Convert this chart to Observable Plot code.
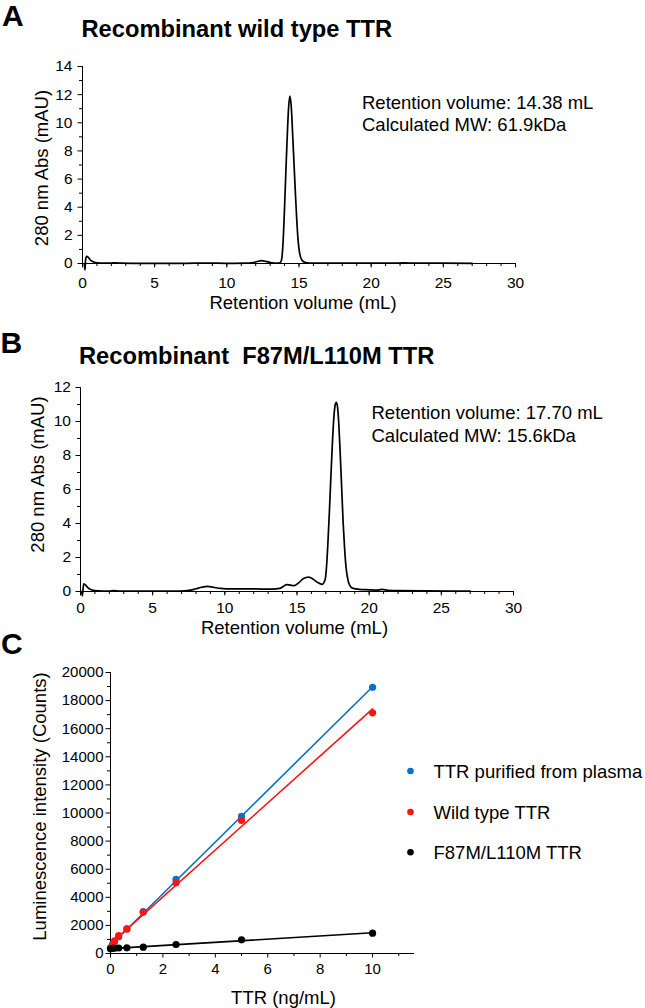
<!DOCTYPE html>
<html><head><meta charset="utf-8">
<script src="https://cdn.jsdelivr.net/npm/d3@7"></script>
<script src="https://cdn.jsdelivr.net/npm/@observablehq/plot@0.6"></script>
<style>
html,body{margin:0;padding:0;background:#fff;overflow:hidden}
#root{position:relative;width:645px;height:1008px;background:#fff}
#root svg{position:absolute;left:0;top:0}
</style></head><body><div id="root"></div>
<script>
// ---------- Panel A: recombinant wild type TTR chromatogram ----------
const volA = [0.12, 0.17, 0.21, 0.28, 0.36, 0.45, 0.6, 0.8, 1.0, 1.5, 2.0, 2.3, 2.7, 3.5, 5.0, 7.0, 8.6, 10.0, 11.3, 11.8, 12.1, 12.4, 12.7, 13.0, 13.3, 13.55, 13.7, 13.8, 13.9, 14.0, 14.1, 14.2, 14.28, 14.37, 14.46, 14.55, 14.65, 14.75, 14.85, 14.95, 15.05, 15.2, 15.4, 15.7, 16.5, 18.0, 20.0, 21.5, 22.3, 23.0, 25.0, 27.0];
const absA = [0.0, -0.45, 0.2, 0.5, 0.48, 0.38, 0.2, 0.1, 0.05, 0.03, 0.03, 0.05, 0.02, 0.01, 0.01, 0.01, 0.03, 0.01, 0.02, 0.06, 0.14, 0.2, 0.15, 0.07, 0.03, 0.02, 0.05, 0.3, 1.6, 4.0, 6.8, 9.4, 11.1, 11.9, 11.2, 9.4, 7.2, 5.0, 3.0, 1.5, 0.7, 0.25, 0.08, 0.03, 0.02, 0.02, 0.02, 0.03, 0.04, 0.03, 0.02, 0.01];
const xTicksA = [0, 5, 10, 15, 20, 25, 30];
const yTicksA = [0, 2, 4, 6, 8, 10, 12, 14];

// ---------- Panel B: recombinant F87M/L110M TTR chromatogram ----------
const volB = [0.08, 0.13, 0.18, 0.23, 0.3, 0.4, 0.55, 0.75, 1.0, 1.5, 2.0, 2.3, 2.7, 3.5, 5.0, 6.5, 7.2, 7.6, 8.0, 8.4, 8.8, 9.2, 9.7, 10.5, 12.0, 13.3, 13.8, 14.05, 14.3, 14.55, 14.8, 15.1, 15.45, 15.8, 16.1, 16.4, 16.75, 16.95, 17.05, 17.15, 17.25, 17.35, 17.45, 17.55, 17.65, 17.72, 17.8, 17.9, 18.0, 18.1, 18.2, 18.3, 18.4, 18.55, 18.7, 18.9, 19.3, 20.0, 20.5, 20.9, 21.3, 22.0, 24.0, 27.0];
const absB = [0.0, -0.25, 0.2, 0.45, 0.42, 0.33, 0.2, 0.1, 0.05, 0.03, 0.03, 0.06, 0.03, 0.02, 0.02, 0.02, 0.04, 0.08, 0.16, 0.25, 0.3, 0.25, 0.18, 0.15, 0.15, 0.14, 0.18, 0.3, 0.41, 0.37, 0.34, 0.5, 0.76, 0.85, 0.74, 0.55, 0.42, 0.7, 1.5, 3.0, 4.8, 6.8, 8.7, 10.2, 11.0, 11.13, 10.9, 9.8, 8.0, 6.0, 4.0, 2.5, 1.4, 0.6, 0.3, 0.18, 0.13, 0.1, 0.08, 0.12, 0.07, 0.05, 0.04, 0.02];
const xTicksB = [0, 5, 10, 15, 20, 25, 30];
const yTicksB = [0, 2, 4, 6, 8, 10, 12];

// ---------- Panel C: luminescence vs TTR concentration ----------
const conc = [0, 0.078, 0.156, 0.3125, 0.625, 1.25, 2.5, 5, 10];
const plasma = [400, 650, 850, 1200, 1750, 2990, 5270, 9770, 18950];
const wild = [380, 600, 900, 1270, 1750, 2930, 5030, 9470, 17130];
const mutant = [330, 360, 375, 390, 405, 450, 640, 975, 1445];
const seriesNames = ["TTR purified from plasma", "Wild type TTR", "F87M/L110M TTR"];
const seriesColors = ["#0a70c6", "#ff1414", "#000000"];
const xTicksC = [0, 2, 4, 6, 8, 10];
const yTicksC = [0, 2000, 4000, 6000, 8000, 10000, 12000, 14000, 16000, 18000, 20000];

// ---------- helpers ----------
const W = 645, H = 1008;
const FONT = '"Liberation Sans", Arial, Helvetica, sans-serif';
const root = document.getElementById("root");

function label(s, X, Y, m, opts = {}) {
  return Plot.text([s], {
    frameAnchor: "top-left", dx: X - m.left, dy: Y - m.top,
    text: d => d, lineAnchor: "bottom", textAnchor: "start",
    fontSize: 18.5, fill: "#000", ...opts
  });
}
function panel(m, xDomain, yDomain, marks) {
  return Plot.plot({
    width: W, height: H,
    marginTop: m.top, marginRight: m.right, marginBottom: m.bottom, marginLeft: m.left,
    x: {domain: xDomain}, y: {domain: yDomain},
    style: {fontFamily: FONT, background: "transparent", overflow: "visible", color: "#000"},
    marks
  });
}
function axes(xMinor, xMajor, yMinor, yMajor, o) {
  return [
    Plot.axisX(xMinor, {tickSize: 3, fill: "none", label: null}),
    Plot.axisX(xMajor, {tickSize: 4.5, tickPadding: o.xPad, fontSize: o.fs, label: null, tickFormat: o.fmt}),
    Plot.axisY(yMinor, {tickSize: 3, fill: "none", label: null}),
    Plot.axisY(yMajor, {tickSize: 4.5, tickPadding: o.yPad, fontSize: o.fs, label: null, tickFormat: o.fmt}),
    Plot.ruleY([yMajor[0]], {stroke: "#000", strokeWidth: 1}),
    Plot.ruleX([xMajor[0]], {stroke: "#000", strokeWidth: 1})
  ];
}

// Panel A
const dataA = volA.map((v, i) => ({v, a: absA[i]}));
const mA = {top: 66, right: 130, bottom: H - 263, left: 82};
root.append(panel(mA, [0, 30], [0, 14], [
  ...axes(d3.range(0, 31), xTicksA, d3.range(1, 14, 2), yTicksA, {xPad: 8.5, yPad: 5.5, fs: 15.5}),
  Plot.line(dataA, {x: "v", y: "a", stroke: "#000", strokeWidth: 1.7, curve: "monotone-x"}),
  label("A", 1.5, 25, mA, {fontSize: 30, fontWeight: "bold"}),
  label("Recombinant wild type TTR", 81, 36.5, mA, {fontSize: 23.7, fontWeight: "bold"}),
  label("Retention volume: 14.38 mL", 361.5, 108.5, mA),
  label("Calculated MW: 61.9kDa", 361.5, 130, mA),
  label("Retention volume (mL)", 302.5, 308.5, mA, {textAnchor: "middle"}),
  label("280 nm Abs (mAU)", 47, 167.5, mA, {textAnchor: "middle", rotate: -90})
]));

// Panel B
const dataB = volB.map((v, i) => ({v, a: absB[i]}));
const mB = {top: 387, right: 132, bottom: H - 591, left: 80};
root.append(panel(mB, [0, 30], [0, 12], [
  ...axes(d3.range(0, 31), xTicksB, d3.range(1, 12, 2), yTicksB, {xPad: 6, yPad: 5, fs: 15.5}),
  Plot.line(dataB, {x: "v", y: "a", stroke: "#000", strokeWidth: 1.7, curve: "monotone-x"}),
  label("B", 0, 352, mB, {fontSize: 30, fontWeight: "bold"}),
  label("Recombinant  F87M/L110M TTR", 78.5, 363, mB, {fontSize: 23.7, fontWeight: "bold"}),
  label("Retention volume: 17.70 mL", 371, 418, mB),
  label("Calculated MW: 15.6kDa", 371, 441.5, mB),
  label("Retention volume (mL)", 294, 633.5, mB, {textAnchor: "middle"}),
  label("280 nm Abs (mAU)", 43, 474, mB, {textAnchor: "middle", rotate: -90})
]));

// Panel C
const dataC = [];
[plasma, wild, mutant].forEach((vals, s) =>
  conc.forEach((c, i) => dataC.push({series: seriesNames[s], c, v: vals[i]})));
const colorOf = Object.fromEntries(seriesNames.map((n, i) => [n, seriesColors[i]]));
const mC = {top: 672, right: W - 414, bottom: H - 953, left: 110};
const seriesMarks = [];
seriesNames.forEach(n => {
  const d = dataC.filter(r => r.series === n);
  seriesMarks.push(Plot.linearRegressionY(d, {x: "c", y: "v", stroke: colorOf[n], strokeWidth: 1.6, ci: 0}));
  seriesMarks.push(Plot.dot(d, {x: "c", y: "v", fill: colorOf[n], r: 3.6}));
});
const legendY = [770.5, 811.5, 851.7];
const legendMarks = [];
seriesNames.forEach((n, i) => {
  legendMarks.push(Plot.dot([n], {frameAnchor: "top-left", dx: 410 - mC.left, dy: legendY[i] - mC.top, r: 3.3, fill: colorOf[n]}));
  legendMarks.push(label(n, 433, legendY[i] + 6.5, mC));
});
root.append(panel(mC, [0, 11.6], [0, 20000], [
  ...axes(d3.range(1, 12, 2), xTicksC, d3.range(1000, 20000, 2000), yTicksC, {xPad: 5, yPad: 2.5, fs: 15, fmt: "d"}),
  ...seriesMarks,
  ...legendMarks,
  label("C", 0.5, 653, mC, {fontSize: 30, fontWeight: "bold"}),
  label("TTR (ng/mL)", 283, 1003.3, mC, {textAnchor: "middle"}),
  label("Luminescence intensity (Counts)", 45, 806, mC, {textAnchor: "middle", rotate: -90})
]));
</script>
</body></html>
